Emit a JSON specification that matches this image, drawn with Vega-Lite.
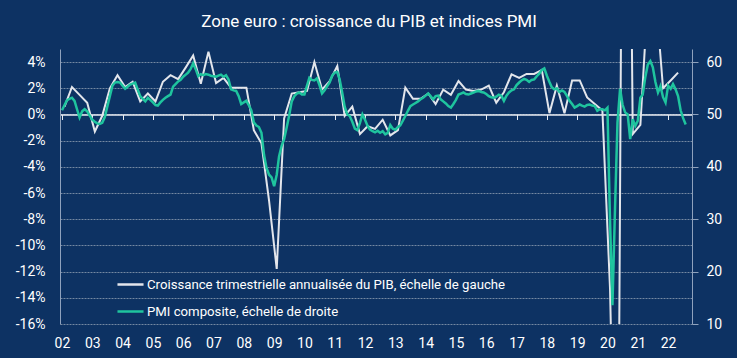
{
  "$schema": "https://vega.github.io/schema/vega-lite/v6.json",
  "autosize": {"type": "none"},
  "width": 632,
  "height": 275,
  "padding": {"left": 60, "top": 49, "right": 45, "bottom": 34},
  "background": "#0d3263",
  "config": {
    "view": {"stroke": null},
    "font": "Roboto",
    "axis": {"labelFont": "Roboto", "labelColor": "#ffffff", "labelFontSize": 14, "title": null},
    "legend": {"labelFont": "Roboto"}
  },
  "title": {
    "text": "Zone euro : croissance du PIB et indices PMI",
    "color": "#ffffff",
    "fontSize": 17,
    "font": "Roboto",
    "fontWeight": "normal",
    "anchor": "middle",
    "frame": "group",
    "dx": -7,
    "baseline": "alphabetic",
    "offset": 5
  },
  "datasets": {
    "pib": [
      {"t":"2002-02","v":0.6},{"t":"2002-05","v":2.1},{"t":"2002-08","v":1.5},{"t":"2002-11","v":0.9},
      {"t":"2003-02","v":-1.3},{"t":"2003-05","v":-0.1},{"t":"2003-08","v":2.0},{"t":"2003-11","v":3.0},
      {"t":"2004-02","v":2.1},{"t":"2004-05","v":2.5},{"t":"2004-08","v":1.0},{"t":"2004-11","v":1.6},
      {"t":"2005-02","v":1.0},{"t":"2005-05","v":2.5},{"t":"2005-08","v":3.0},{"t":"2005-11","v":2.7},
      {"t":"2006-02","v":3.6},{"t":"2006-05","v":4.5},{"t":"2006-08","v":2.35},{"t":"2006-11","v":4.8},
      {"t":"2007-02","v":2.4},{"t":"2007-05","v":2.8},{"t":"2007-08","v":2.05},{"t":"2007-11","v":2.05},
      {"t":"2008-02","v":2.05},{"t":"2008-05","v":-1.2},{"t":"2008-08","v":-2.2},{"t":"2008-11","v":-6.6},
      {"t":"2009-02","v":-11.8},{"t":"2009-05","v":-0.3},{"t":"2009-08","v":1.6},{"t":"2009-11","v":1.7},
      {"t":"2010-02","v":1.8},{"t":"2010-05","v":4.0},{"t":"2010-08","v":1.9},{"t":"2010-11","v":2.55},
      {"t":"2011-02","v":3.7},{"t":"2011-05","v":-0.1},{"t":"2011-08","v":0.6},{"t":"2011-11","v":-1.5},
      {"t":"2012-02","v":-0.9},{"t":"2012-05","v":-1.1},{"t":"2012-08","v":-0.4},{"t":"2012-11","v":-1.6},
      {"t":"2013-02","v":-1.2},{"t":"2013-05","v":2.05},{"t":"2013-08","v":1.2},{"t":"2013-11","v":1.2},
      {"t":"2014-02","v":1.6},{"t":"2014-05","v":0.8},{"t":"2014-08","v":1.9},{"t":"2014-11","v":1.5},
      {"t":"2015-02","v":2.55},{"t":"2015-05","v":1.9},{"t":"2015-08","v":1.8},{"t":"2015-11","v":1.9},
      {"t":"2016-02","v":2.2},{"t":"2016-05","v":0.9},{"t":"2016-08","v":1.7},{"t":"2016-11","v":3.07},
      {"t":"2017-02","v":2.8},{"t":"2017-05","v":3.1},{"t":"2017-08","v":3.1},{"t":"2017-11","v":3.4},
      {"t":"2018-02","v":0.1},{"t":"2018-05","v":2.2},{"t":"2018-08","v":0.1},{"t":"2018-11","v":2.6},
      {"t":"2019-02","v":2.6},{"t":"2019-05","v":1.3},{"t":"2019-08","v":0.8},{"t":"2019-11","v":0.3},
      {"t":"2020-02","v":-13.3},{"t":"2020-05","v":-39.5},{"t":"2020-08","v":60.0},{"t":"2020-11","v":-1.5},
      {"t":"2021-02","v":-0.8},{"t":"2021-05","v":9.0},{"t":"2021-08","v":9.3},{"t":"2021-11","v":2.0},
      {"t":"2022-02","v":2.6},{"t":"2022-05","v":3.2}
    ],
    "pmi": [
      {"t":"2002-01","v":50.8},{"t":"2002-02","v":51.8},{"t":"2002-03","v":52.7},{"t":"2002-04","v":53.0},{"t":"2002-05","v":53.2},{"t":"2002-06","v":52.6},{"t":"2002-07","v":51.0},{"t":"2002-08","v":49.4},{"t":"2002-09","v":50.6},{"t":"2002-10","v":51.0},{"t":"2002-11","v":50.6},{"t":"2002-12","v":49.8},
      {"t":"2003-01","v":49.0},{"t":"2003-02","v":48.6},{"t":"2003-03","v":48.3},{"t":"2003-04","v":48.2},{"t":"2003-05","v":48.4},{"t":"2003-06","v":49.5},{"t":"2003-07","v":51.5},{"t":"2003-08","v":53.5},{"t":"2003-09","v":55.5},{"t":"2003-10","v":56.1},{"t":"2003-11","v":56.2},{"t":"2003-12","v":56.1},
      {"t":"2004-01","v":55.5},{"t":"2004-02","v":54.9},{"t":"2004-03","v":55.3},{"t":"2004-04","v":55.7},{"t":"2004-05","v":55.9},{"t":"2004-06","v":56.1},{"t":"2004-07","v":54.8},{"t":"2004-08","v":53.5},{"t":"2004-09","v":53.0},{"t":"2004-10","v":52.5},{"t":"2004-11","v":53.2},{"t":"2004-12","v":52.8},
      {"t":"2005-01","v":52.3},{"t":"2005-02","v":51.8},{"t":"2005-03","v":51.7},{"t":"2005-04","v":52.3},{"t":"2005-05","v":52.8},{"t":"2005-06","v":53.2},{"t":"2005-07","v":53.5},{"t":"2005-08","v":53.8},{"t":"2005-09","v":55.3},{"t":"2005-10","v":55.8},{"t":"2005-11","v":56.3},{"t":"2005-12","v":56.6},
      {"t":"2006-01","v":57.2},{"t":"2006-02","v":57.6},{"t":"2006-03","v":58.0},{"t":"2006-04","v":58.7},{"t":"2006-05","v":59.8},{"t":"2006-06","v":58.6},{"t":"2006-07","v":57.3},{"t":"2006-08","v":57.7},{"t":"2006-09","v":57.5},{"t":"2006-10","v":57.7},{"t":"2006-11","v":57.6},{"t":"2006-12","v":57.4},
      {"t":"2007-01","v":57.3},{"t":"2007-02","v":57.2},{"t":"2007-03","v":57.4},{"t":"2007-04","v":57.6},{"t":"2007-05","v":57.2},{"t":"2007-06","v":57.5},{"t":"2007-07","v":56.7},{"t":"2007-08","v":54.8},{"t":"2007-09","v":54.6},{"t":"2007-10","v":54.5},{"t":"2007-11","v":53.5},{"t":"2007-12","v":52.0},
      {"t":"2008-01","v":52.3},{"t":"2008-02","v":52.6},{"t":"2008-03","v":51.8},{"t":"2008-04","v":50.8},{"t":"2008-05","v":48.5},{"t":"2008-06","v":47.9},{"t":"2008-07","v":47.6},{"t":"2008-08","v":46.5},{"t":"2008-09","v":42.3},{"t":"2008-10","v":39.8},{"t":"2008-11","v":38.5},{"t":"2008-12","v":38.0},
      {"t":"2009-01","v":36.3},{"t":"2009-02","v":38.5},{"t":"2009-03","v":42.0},{"t":"2009-04","v":44.0},{"t":"2009-05","v":45.3},{"t":"2009-06","v":47.5},{"t":"2009-07","v":49.8},{"t":"2009-08","v":52.5},{"t":"2009-09","v":53.5},{"t":"2009-10","v":54.0},{"t":"2009-11","v":54.2},{"t":"2009-12","v":53.8},
      {"t":"2010-01","v":53.8},{"t":"2010-02","v":55.5},{"t":"2010-03","v":57.0},{"t":"2010-04","v":56.6},{"t":"2010-05","v":56.5},{"t":"2010-06","v":56.9},{"t":"2010-07","v":55.6},{"t":"2010-08","v":54.0},{"t":"2010-09","v":54.6},{"t":"2010-10","v":55.4},{"t":"2010-11","v":56.1},{"t":"2010-12","v":57.4},
      {"t":"2011-01","v":58.0},{"t":"2011-02","v":58.1},{"t":"2011-03","v":56.7},{"t":"2011-04","v":54.2},{"t":"2011-05","v":51.5},{"t":"2011-06","v":50.0},{"t":"2011-07","v":49.7},{"t":"2011-08","v":48.6},{"t":"2011-09","v":47.3},{"t":"2011-10","v":47.0},{"t":"2011-11","v":48.4},{"t":"2011-12","v":50.0},
      {"t":"2012-01","v":49.0},{"t":"2012-02","v":47.8},{"t":"2012-03","v":47.1},{"t":"2012-04","v":46.8},{"t":"2012-05","v":46.6},{"t":"2012-06","v":46.9},{"t":"2012-07","v":46.5},{"t":"2012-08","v":46.8},{"t":"2012-09","v":46.2},{"t":"2012-10","v":46.5},{"t":"2012-11","v":48.0},{"t":"2012-12","v":47.3},
      {"t":"2013-01","v":47.1},{"t":"2013-02","v":47.6},{"t":"2013-03","v":47.9},{"t":"2013-04","v":48.8},{"t":"2013-05","v":49.7},{"t":"2013-06","v":50.7},{"t":"2013-07","v":51.6},{"t":"2013-08","v":51.9},{"t":"2013-09","v":52.2},{"t":"2013-10","v":52.5},{"t":"2013-11","v":52.9},{"t":"2013-12","v":53.2},
      {"t":"2014-01","v":53.6},{"t":"2014-02","v":54.0},{"t":"2014-03","v":53.5},{"t":"2014-04","v":52.9},{"t":"2014-05","v":53.5},{"t":"2014-06","v":53.6},{"t":"2014-07","v":52.9},{"t":"2014-08","v":52.5},{"t":"2014-09","v":52.1},{"t":"2014-10","v":51.6},{"t":"2014-11","v":51.3},{"t":"2014-12","v":52.0},
      {"t":"2015-01","v":52.8},{"t":"2015-02","v":53.8},{"t":"2015-03","v":54.0},{"t":"2015-04","v":54.2},{"t":"2015-05","v":53.9},{"t":"2015-06","v":53.8},{"t":"2015-07","v":54.0},{"t":"2015-08","v":54.2},{"t":"2015-09","v":54.4},{"t":"2015-10","v":54.5},{"t":"2015-11","v":54.3},{"t":"2015-12","v":54.2},
      {"t":"2016-01","v":53.9},{"t":"2016-02","v":53.5},{"t":"2016-03","v":53.3},{"t":"2016-04","v":53.2},{"t":"2016-05","v":53.4},{"t":"2016-06","v":53.8},{"t":"2016-07","v":53.6},{"t":"2016-08","v":52.6},{"t":"2016-09","v":53.6},{"t":"2016-10","v":54.2},{"t":"2016-11","v":54.6},{"t":"2016-12","v":54.8},
      {"t":"2017-01","v":55.6},{"t":"2017-02","v":56.1},{"t":"2017-03","v":56.5},{"t":"2017-04","v":56.8},{"t":"2017-05","v":56.6},{"t":"2017-06","v":56.2},{"t":"2017-07","v":56.6},{"t":"2017-08","v":56.7},{"t":"2017-09","v":57.3},{"t":"2017-10","v":57.8},{"t":"2017-11","v":58.5},{"t":"2017-12","v":58.8},
      {"t":"2018-01","v":57.4},{"t":"2018-02","v":56.2},{"t":"2018-03","v":55.2},{"t":"2018-04","v":54.8},{"t":"2018-05","v":55.0},{"t":"2018-06","v":54.3},{"t":"2018-07","v":54.6},{"t":"2018-08","v":54.3},{"t":"2018-09","v":53.5},{"t":"2018-10","v":52.6},{"t":"2018-11","v":52.0},{"t":"2018-12","v":51.3},
      {"t":"2019-01","v":51.6},{"t":"2019-02","v":51.9},{"t":"2019-03","v":51.7},{"t":"2019-04","v":51.5},{"t":"2019-05","v":51.8},{"t":"2019-06","v":51.9},{"t":"2019-07","v":51.7},{"t":"2019-08","v":51.6},{"t":"2019-09","v":50.7},{"t":"2019-10","v":51.0},{"t":"2019-11","v":51.0},{"t":"2019-12","v":50.8},
      {"t":"2020-01","v":51.3},{"t":"2020-02","v":29.7},{"t":"2020-03","v":13.6},{"t":"2020-04","v":31.9},{"t":"2020-05","v":48.5},{"t":"2020-06","v":54.9},{"t":"2020-07","v":51.9},{"t":"2020-08","v":50.4},{"t":"2020-09","v":50.0},{"t":"2020-10","v":45.3},{"t":"2020-11","v":49.1},{"t":"2020-12","v":47.8},
      {"t":"2021-01","v":48.8},{"t":"2021-02","v":53.2},{"t":"2021-03","v":53.8},{"t":"2021-04","v":57.1},{"t":"2021-05","v":59.5},{"t":"2021-06","v":60.2},{"t":"2021-07","v":59.0},{"t":"2021-08","v":56.2},{"t":"2021-09","v":54.2},{"t":"2021-10","v":55.4},{"t":"2021-11","v":53.3},{"t":"2021-12","v":52.3},
      {"t":"2022-01","v":55.5},{"t":"2022-02","v":54.9},{"t":"2022-03","v":55.8},{"t":"2022-04","v":54.8},{"t":"2022-05","v":53.5},{"t":"2022-06","v":50.8},{"t":"2022-07","v":49.3},{"t":"2022-08","v":48.1}
    ]
  },
  "layer": [
    {
      "data": {"name": "pib", "format": {"parse": {"t": "utc:'%Y-%m'"}}},
      "mark": {"type": "line", "strokeWidth": 2, "clip": true},
      "encoding": {
        "x": {
          "field": "t", "type": "temporal",
          "scale": {"type": "utc", "domain": [{"year": 2001, "month": 12, "date": 8, "utc": true}, {"year": 2022, "month": 10, "date": 16, "utc": true}]},
          "axis": {
            "orient": "bottom", "format": "%y", "domain": false, "ticks": false, "grid": false, "labelPadding": 12,
            "values": [
              {"year":2002,"month":1,"date":1,"utc":true},{"year":2003,"month":1,"date":1,"utc":true},{"year":2004,"month":1,"date":1,"utc":true},
              {"year":2005,"month":1,"date":1,"utc":true},{"year":2006,"month":1,"date":1,"utc":true},{"year":2007,"month":1,"date":1,"utc":true},
              {"year":2008,"month":1,"date":1,"utc":true},{"year":2009,"month":1,"date":1,"utc":true},{"year":2010,"month":1,"date":1,"utc":true},
              {"year":2011,"month":1,"date":1,"utc":true},{"year":2012,"month":1,"date":1,"utc":true},{"year":2013,"month":1,"date":1,"utc":true},
              {"year":2014,"month":1,"date":1,"utc":true},{"year":2015,"month":1,"date":1,"utc":true},{"year":2016,"month":1,"date":1,"utc":true},
              {"year":2017,"month":1,"date":1,"utc":true},{"year":2018,"month":1,"date":1,"utc":true},{"year":2019,"month":1,"date":1,"utc":true},
              {"year":2020,"month":1,"date":1,"utc":true},{"year":2021,"month":1,"date":1,"utc":true},{"year":2022,"month":1,"date":1,"utc":true}
            ]
          }
        },
        "y": {
          "field": "v", "type": "quantitative",
          "scale": {"domain": [-16, 5], "nice": false, "zero": false},
          "axis": {
            "orient": "left", "values": [-16, -14, -12, -10, -8, -6, -4, -2, 0, 2, 4],
            "labelExpr": "datum.value + '%'",
            "grid": true, "gridColor": "#8f9db2", "gridDash": [2, 1], "gridWidth": 1, "gridOpacity": 0.8,
            "domain": true, "domainColor": "#8fa2bd", "ticks": false, "labelPadding": 15
          }
        },
        "color": {
          "datum": "Croissance trimestrielle annualisée du PIB, échelle de gauche",
          "type": "nominal",
          "scale": {
            "domain": ["Croissance trimestrielle annualisée du PIB, échelle de gauche", "PMI composite, échelle de droite"],
            "range": ["#e3e6ec", "#1fc49e"]
          },
          "legend": {
            "orient": "none", "legendX": 56, "legendY": 221, "direction": "vertical", "title": null,
            "symbolType": "stroke", "symbolSize": 680, "symbolStrokeWidth": 2.5,
            "labelFontSize": 13.2, "labelColor": "#ffffff", "labelLimit": 600, "rowPadding": 6, "padding": 0, "labelOffset": 2
          }
        }
      }
    },
    {
      "data": {"name": "pmi", "format": {"parse": {"t": "utc:'%Y-%m'"}}},
      "mark": {"type": "line", "strokeWidth": 2.5, "clip": true},
      "encoding": {
        "x": {
          "field": "t", "type": "temporal",
          "axis": {
            "orient": "bottom", "offset": -209.5, "labels": false, "grid": false,
            "domain": true, "domainColor": "#e8ecf2", "domainWidth": 1.5,
            "ticks": true, "tickSize": 5, "tickColor": "#e8ecf2", "tickWidth": 1,
            "values": [
              {"year":2002,"month":1,"date":1,"utc":true},{"year":2003,"month":1,"date":1,"utc":true},{"year":2004,"month":1,"date":1,"utc":true},
              {"year":2005,"month":1,"date":1,"utc":true},{"year":2006,"month":1,"date":1,"utc":true},{"year":2007,"month":1,"date":1,"utc":true},
              {"year":2008,"month":1,"date":1,"utc":true},{"year":2009,"month":1,"date":1,"utc":true},{"year":2010,"month":1,"date":1,"utc":true},
              {"year":2011,"month":1,"date":1,"utc":true},{"year":2012,"month":1,"date":1,"utc":true},{"year":2013,"month":1,"date":1,"utc":true},
              {"year":2014,"month":1,"date":1,"utc":true},{"year":2015,"month":1,"date":1,"utc":true},{"year":2016,"month":1,"date":1,"utc":true},
              {"year":2017,"month":1,"date":1,"utc":true},{"year":2018,"month":1,"date":1,"utc":true},{"year":2019,"month":1,"date":1,"utc":true},
              {"year":2020,"month":1,"date":1,"utc":true},{"year":2021,"month":1,"date":1,"utc":true},{"year":2022,"month":1,"date":1,"utc":true}
            ]
          }
        },
        "y": {
          "field": "v", "type": "quantitative",
          "scale": {"domain": [10, 62.5], "nice": false, "zero": false},
          "axis": {
            "orient": "right", "values": [10, 20, 30, 40, 50, 60], "grid": false,
            "domain": true, "domainColor": "#8fa2bd", "ticks": true, "tickColor": "#8fa2bd", "tickSize": 6, "labelPadding": 8
          }
        },
        "color": {"datum": "PMI composite, échelle de droite", "type": "nominal"}
      }
    }
  ],
  "resolve": {"scale": {"y": "independent"}, "axis": {"x": "independent", "y": "independent"}}
}
